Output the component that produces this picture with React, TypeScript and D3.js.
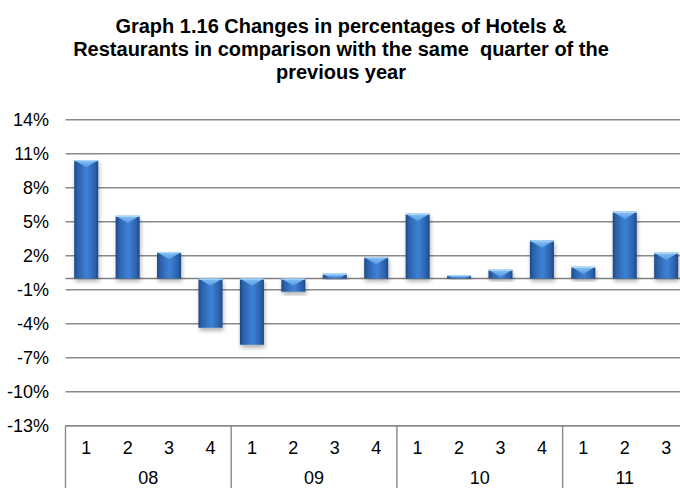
import React from "react";
import * as d3 from "d3";

const quarters = ["1", "2", "3", "4", "1", "2", "3", "4", "1", "2", "3", "4", "1", "2", "3"];
const yearOfQuarter = ["08", "08", "08", "08", "09", "09", "09", "09", "10", "10", "10", "10", "11", "11", "11"];
const years = ["08", "09", "10", "11"];
const values = [10.45, 5.53, 2.33, -4.35, -5.85, -1.17, 0.42, 1.89, 5.71, 0.3, 0.77, 3.36, 1.03, 5.89, 2.27];
const yTicks = [-13, -10, -7, -4, -1, 2, 5, 8, 11, 14];
const titleLines = [
  "Graph 1.16 Changes in percentages of Hotels &",
  "Restaurants in comparison with the same  quarter of the",
  "previous year",
];

const W = 680;
const H = 488;
const FONT = "'Liberation Sans', Arial, sans-serif";

export default function App() {
  const x = d3
    .scaleBand<number>()
    .domain(d3.range(values.length))
    .range([65.5, 686.9])
    .paddingInner(0.42)
    .paddingOuter(0.21);
  const y = d3.scaleLinear().domain([-13, 14]).range([425.8, 119.8]);
  const step = x.step();
  const off = (step - x.bandwidth()) / 2;
  const boundary = (i: number) => (x(i) as number) - off;
  const y0 = y(0);

  const groups = years.map((yr) => {
    const idx = yearOfQuarter.map((q, i) => (q === yr ? i : -1)).filter((i) => i >= 0);
    const start = boundary(idx[0]);
    const end = boundary(idx[idx.length - 1]) + step;
    return { yr, start, end };
  });

  return (
    <svg
      width={W}
      height={H}
      style={{ position: "absolute", left: 0, top: 0, background: "#fff" }}
      fontFamily={FONT}
    >
      <defs>
        <linearGradient id="barGrad" x1="0" x2="1" y1="0" y2="0">
          <stop offset="0" stopColor="#1c477f" />
          <stop offset="0.12" stopColor="#2a5fa8" />
          <stop offset="0.45" stopColor="#3a7ccf" />
          <stop offset="0.55" stopColor="#3d80d4" />
          <stop offset="0.88" stopColor="#2a5fa8" />
          <stop offset="1" stopColor="#1c477f" />
        </linearGradient>
        <linearGradient id="capGrad" x1="0" x2="0" y1="0" y2="1">
          <stop offset="0" stopColor="#8fcaf7" />
          <stop offset="1" stopColor="#5b9fe6" />
        </linearGradient>
        <filter id="shadow" x="-30%" y="-30%" width="160%" height="160%">
          <feDropShadow dx="1" dy="3" stdDeviation="2" floodColor="#000" floodOpacity="0.3" />
        </filter>
      </defs>

      {titleLines.map((t, i) => (
        <text
          key={i}
          x={341}
          y={[32.5, 55.5, 79][i]}
          textAnchor="middle"
          fontSize={20}
          fontWeight="bold"
          fill="#000"
          style={{ whiteSpace: "pre" }}
        >
          {t}
        </text>
      ))}

      {yTicks.map((t) => (
        <g key={t}>
          <line x1={65.5} x2={W} y1={y(t)} y2={y(t)} stroke="#8a8a8a" strokeWidth={1.4} />
          <text x={49} y={y(t) + 6.4} textAnchor="end" fontSize={18} fill="#000">
            {t}%
          </text>
        </g>
      ))}

      <line x1={65.5} x2={W} y1={y0} y2={y0} stroke="#808080" strokeWidth={1.4} />

      {values.map((v, i) => {
        const bx = x(i) as number;
        const bw = x.bandwidth();
        const top = Math.min(y(v), y0);
        const bh = Math.abs(y(v) - y0);
        const capH = Math.min(7, bh * 0.75);
        const d = (bw / 2) * (capH / 7) * 0.95;
        const cap = `M${bx},${top} L${bx + bw},${top} L${bx + bw - d},${top + capH} L${bx + d},${top + capH} Z`;
        return (
          <g key={i}>
            <rect x={bx} y={top} width={bw} height={bh} fill="url(#barGrad)" filter="url(#shadow)" />
            <path d={cap} fill="url(#capGrad)" opacity={0.9} />
            <line x1={bx} x2={bx + bw} y1={top + 0.6} y2={top + 0.6} stroke="#a9d6fa" strokeWidth={1.2} />
          </g>
        );
      })}

      {/* category table */}
      <line x1={65.5} x2={W} y1={y(-13)} y2={y(-13)} stroke="#8a8a8a" strokeWidth={1.4} />
      {groups.map((g) => (
        <line key={g.yr} x1={g.start} x2={g.start} y1={y(-13)} y2={H} stroke="#8a8a8a" strokeWidth={1.4} />
      ))}
      {quarters.map((q, i) => (
        <text
          key={i}
          x={(x(i) as number) + x.bandwidth() / 2}
          y={454.3}
          textAnchor="middle"
          fontSize={18}
          fill="#000"
        >
          {q}
        </text>
      ))}
      {groups.map((g) => (
        <text key={g.yr} x={(g.start + g.end) / 2} y={483.8} textAnchor="middle" fontSize={18} fill="#000">
          {g.yr}
        </text>
      ))}
    </svg>
  );
}
